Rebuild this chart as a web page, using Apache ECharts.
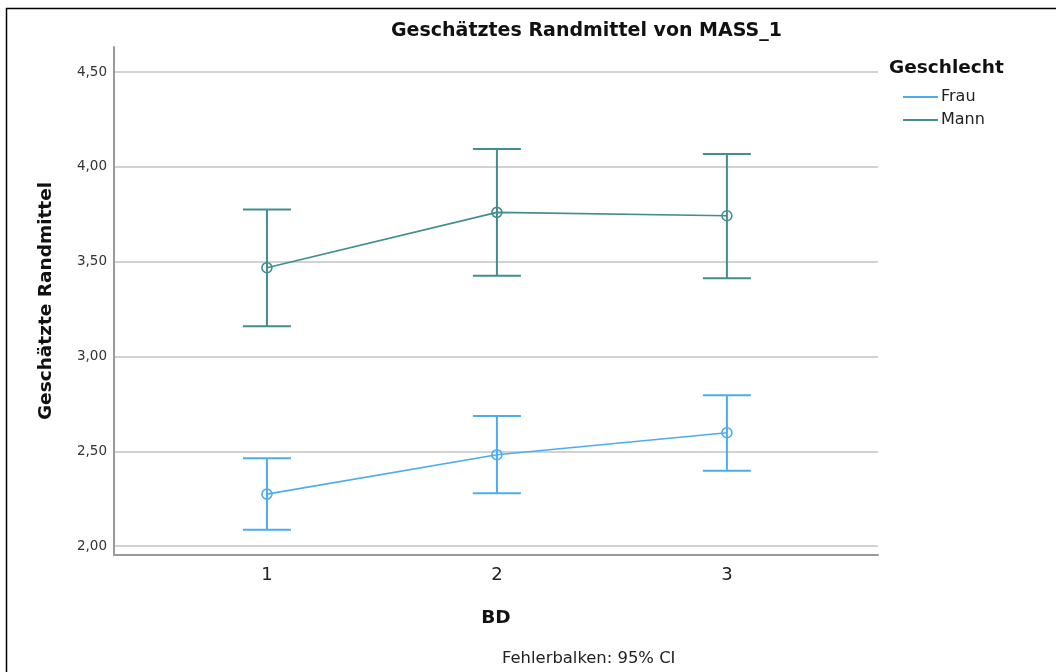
<!DOCTYPE html>
<html>
<head>
<meta charset="utf-8">
<script src="https://cdn.jsdelivr.net/npm/echarts@6/dist/echarts.min.js"></script>
<style>
  html, body { margin: 0; padding: 0; background: #fff; }
  #chart { width: 1056px; height: 672px; }
</style>
</head>
<body>
<div id="chart"></div>
<script>
// Werte
var bdStufen = [1, 2, 3];
var yTicks = [2.0, 2.5, 3.0, 3.5, 4.0, 4.5];

var frauMittel = [2.274, 2.482, 2.598];
var frauUnten  = [2.086, 2.278, 2.397];
var frauOben   = [2.463, 2.686, 2.796];

var mannMittel = [3.468, 3.760, 3.742];
var mannUnten  = [3.160, 3.425, 3.413];
var mannOben   = [3.775, 4.094, 4.068];

var FONT = 'DejaVu Sans';
var frauFarbe = '#4DACEE';
var mannFarbe = '#428D8D';

function linie(werte) {
    return bdStufen.map(function (x, i) { return [x, werte[i]]; });
}
function balken(unten, oben) {
    return bdStufen.map(function (x, i) { return [x, unten[i], oben[i]]; });
}

// Fehlerbalken zeichnen (senkrechte Linie + zwei Querstriche)
function fehlerBalken(farbe) {
    return function (params, api) {
        var p1 = api.coord([api.value(0), api.value(1)]);
        var p2 = api.coord([api.value(0), api.value(2)]);
        var w = 24;
        var st = { stroke: farbe, lineWidth: 2 };
        return {
            type: 'group',
            children: [
                { type: 'line', shape: { x1: p1[0], y1: p1[1], x2: p2[0], y2: p2[1] }, style: st },
                { type: 'line', shape: { x1: p1[0] - w, y1: p1[1], x2: p1[0] + w, y2: p1[1] }, style: st },
                { type: 'line', shape: { x1: p2[0] - w, y1: p2[1], x2: p2[0] + w, y2: p2[1] }, style: st }
            ]
        };
    };
}

var myChart = echarts.init(document.getElementById('chart'));

var option = {
    backgroundColor: '#fff',
    animation: false,
    textStyle: { fontFamily: FONT },
    title: [
        {
            text: 'Geschätztes Randmittel von MASS_1',
            left: 386, top: 17,
            textStyle: { fontFamily: FONT, fontSize: 19, fontWeight: 'bold', color: '#111' }
        },
        {
            text: 'Geschlecht',
            left: 884, top: 54,
            textStyle: { fontFamily: FONT, fontSize: 18.5, fontWeight: 'bold', color: '#111' }
        },
        {
            text: 'Fehlerbalken: 95% CI',
            left: 497, top: 646,
            textStyle: { fontFamily: FONT, fontSize: 16.4, fontWeight: 'normal', color: '#222' }
        }
    ],
    legend: {
        orient: 'vertical',
        left: 898, top: 84,
        itemWidth: 35, itemHeight: 2, itemGap: 7,
        icon: 'rect',
        textStyle: { fontFamily: FONT, fontSize: 16, color: '#222', padding: [0, 0, 0, -2] },
        data: [
            { name: 'Frau', itemStyle: { color: frauFarbe, borderWidth: 0 } },
            { name: 'Mann', itemStyle: { color: mannFarbe, borderWidth: 0 } }
        ]
    },
    graphic: [
        {
            type: 'rect',
            shape: { x: 6.5, y: 8.5, width: 1100, height: 700 },
            style: { fill: null, stroke: '#000', lineWidth: 1.5 },
            silent: true
        }
    ],
    grid: { left: 114, right: 178, top: 47, bottom: 117 },
    xAxis: {
        type: 'value',
        min: 0.335, max: 3.657,
        name: 'BD',
        nameLocation: 'middle',
        nameGap: 54,
        nameTextStyle: { fontFamily: FONT, fontSize: 18.5, fontWeight: 'bold', color: '#111' },
        axisLine: { show: true, lineStyle: { color: '#9a9a9a', width: 2 } },
        axisTick: { show: false, customValues: bdStufen },
        axisLabel: {
            customValues: bdStufen,
            margin: 11,
            fontFamily: FONT, fontSize: 18, color: '#222',
            formatter: function (v) { return String(v); }
        },
        splitLine: { show: false }
    },
    yAxis: {
        type: 'value',
        min: 1.953, max: 4.632,
        name: 'Geschätzte Randmittel',
        nameLocation: 'middle',
        nameGap: 58,
        nameRotate: 90,
        nameTextStyle: { fontFamily: FONT, fontSize: 18.5, fontWeight: 'bold', color: '#111' },
        axisLine: { show: true, lineStyle: { color: '#9a9a9a', width: 2 } },
        axisTick: { show: false, customValues: yTicks },
        axisLabel: {
            customValues: yTicks,
            margin: 7,
            fontFamily: FONT, fontSize: 13.5, color: '#333',
            formatter: function (v) { return v.toFixed(2).replace('.', ','); }
        },
        splitLine: {
            show: true,
            customValues: yTicks,
            lineStyle: { color: '#d2d2d2', width: 2 }
        }
    },
    series: [
        {
            name: 'Frau',
            type: 'line',
            data: linie(frauMittel),
            symbol: 'circle',
            symbolSize: 10,
            color: frauFarbe,
            lineStyle: { color: frauFarbe, width: 1.6 },
            itemStyle: { color: 'rgba(0,0,0,0)', borderColor: frauFarbe, borderWidth: 1.6 },
            z: 3
        },
        {
            name: 'Mann',
            type: 'line',
            data: linie(mannMittel),
            symbol: 'circle',
            symbolSize: 10,
            color: mannFarbe,
            lineStyle: { color: mannFarbe, width: 1.6 },
            itemStyle: { color: 'rgba(0,0,0,0)', borderColor: mannFarbe, borderWidth: 1.6 },
            z: 3
        },
        {
            name: 'Frau CI',
            type: 'custom',
            renderItem: fehlerBalken(frauFarbe),
            data: balken(frauUnten, frauOben),
            encode: { x: 0, y: [1, 2] },
            z: 2
        },
        {
            name: 'Mann CI',
            type: 'custom',
            renderItem: fehlerBalken(mannFarbe),
            data: balken(mannUnten, mannOben),
            encode: { x: 0, y: [1, 2] },
            z: 2
        }
    ]
};

myChart.setOption(option);
</script>
</body>
</html>
